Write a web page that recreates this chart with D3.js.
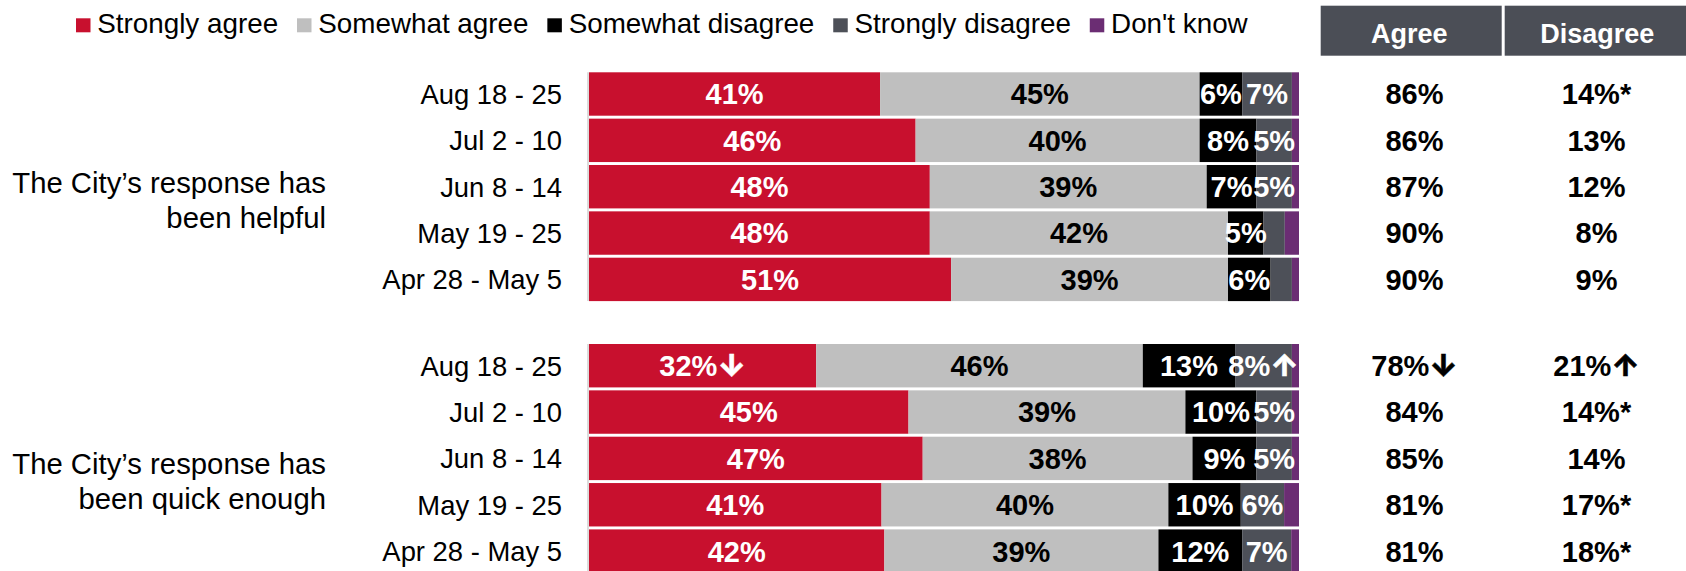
<!DOCTYPE html>
<html>
<head>
<meta charset="utf-8">
<script src="https://cdn.jsdelivr.net/npm/d3@7/dist/d3.min.js"></script>
<style>
  html, body { margin: 0; padding: 0; background: #fff; }
  svg { display: block; font-family: "Liberation Sans", Arial, Helvetica, sans-serif; }
</style>
</head>
<body>
<svg id="chart" width="1686" height="571"></svg>
<script>
// ---------------- data ----------------
const categories = ["Aug 18 - 25", "Jul 2 - 10", "Jun 8 - 14", "May 19 - 25", "Apr 28 - May 5"];
const questionLines = [
  ["The City\u2019s response has", "been helpful"],
  ["The City\u2019s response has", "been quick enough"]
];
const seriesNames = ["Strongly agree", "Somewhat agree", "Somewhat disagree", "Strongly disagree", "Don't know"];

// 10 rows: question 1 (5 waves) then question 2 (5 waves)
const stronglyAgree    = [41, 46, 48, 48, 51,   32, 45, 47, 41.2, 41.6];
const somewhatAgree    = [45, 40, 39, 42, 39,   46, 39, 38, 40.4, 38.6];
const somewhatDisagree = [6,  8,  7,  5,  6,    13, 10, 9,  10.2, 11.8];
const stronglyDisagree = [7,  5,  5,  3,  3,    8,  5,  5,  6.1,  6.9];
const dontKnow         = [1,  1,  1,  2,  1,    1,  1,  1,  2.1,  1.1];

const stronglyAgreeMarks    = ["", "", "", "", "", "\u2193", "", "", "", ""];
const stronglyDisagreeMarks = ["", "", "", "", "", "\u2191", "", "", "", ""];

const agreeTotals    = [86, 86, 87, 90, 90,  78, 84, 85, 81, 81];
const agreeMarks     = ["", "", "", "", "",  "\u2193", "", "", "", ""];
const disagreeTotals = [14, 13, 12, 8, 9,    21, 14, 14, 17, 18];
const disagreeMarks  = ["*", "", "", "", "", "\u2191", "*", "", "*", "*"];

const columnHeaders = ["Agree", "Disagree"];

// ---------------- styles ----------------
const colors = ["#c8102e", "#bfbfbf", "#000000", "#4d5058", "#6b2d73"];
const labelColors = ["#ffffff", "#000000", "#ffffff", "#ffffff", "#ffffff"];
const seriesData = [stronglyAgree, somewhatAgree, somewhatDisagree, stronglyDisagree, dontKnow];
const seriesMarks = [stronglyAgreeMarks, null, null, stronglyDisagreeMarks, null];

const svg = d3.select("#chart");

// x scale
const x = d3.scaleLinear().domain([0, 100]).range([589, 1299]);

// y scales, one band per question group
const pitch = 46.35, barH = 43.4;
const groupTops = [72.3, 344];
const yScales = groupTops.map(t =>
  d3.scaleBand().domain(categories)
    .range([t, t + 4 * pitch + barH])
    .paddingInner((pitch - barH) / pitch)
    .paddingOuter(0)
);

// rows
const rows = [];
for (let g = 0; g < 2; g++) {
  categories.forEach((c, i) => rows.push({ g, cat: c, idx: g * 5 + i }));
}

// helper: centred value text (one text element); arrows in a font with chevron heads
function valueText(parent, cx, cy, main, mark, fill, size) {
  const t = parent.append("text").attr("x", cx).attr("y", cy).attr("dy", "0.36em")
    .attr("text-anchor", "middle").attr("font-weight", "bold").attr("font-size", size)
    .attr("fill", fill);
  t.append("tspan").text(main);
  if (mark) {
    const isArrow = mark === "\u2191" || mark === "\u2193";
    const ts = t.append("tspan").text(mark);
    if (isArrow) {
      ts.attr("font-family", "Inter, 'DejaVu Sans', sans-serif").attr("font-weight", 800)
        .attr("font-size", size * 1.05).attr("stroke", fill).attr("stroke-width", 0.6);
    }
  }
}

// ---------------- legend ----------------
const legend = svg.append("g");
let lx = 76;
seriesNames.forEach((name, i) => {
  legend.append("rect").attr("x", lx).attr("y", 18.3).attr("width", 14.5).attr("height", 14)
    .attr("fill", colors[i]);
  const t = legend.append("text").attr("x", lx + 21.3).attr("y", 33.3)
    .attr("font-size", 27.8).attr("fill", "#000").text(name);
  lx += 21.3 + t.node().getComputedTextLength() + 18.9;
});

// ---------------- header boxes ----------------
const headerBoxes = [[1320.7, 1501.7], [1504.7, 1690]];
const colCenters = [1414.5, 1596.5];
columnHeaders.forEach((h, i) => {
  const [a, b] = headerBoxes[i];
  svg.append("rect").attr("x", a).attr("y", 5.7).attr("width", b - a).attr("height", 50)
    .attr("fill", "#4b4e56");
  svg.append("text").attr("x", (a + b) / 2 - (i === 0 ? 2 : 0)).attr("y", 43.3)
    .attr("text-anchor", "middle").attr("font-weight", "bold").attr("font-size", 27)
    .attr("fill", "#fff").text(h);
});

// ---------------- bars ----------------
const barsG = svg.append("g");
rows.forEach(r => {
  const y = yScales[r.g];
  const yy = y(r.cat), bw = y.bandwidth();
  let cum = 0;
  seriesData.forEach((arr, s) => {
    const v = arr[r.idx];
    const x0 = x(cum), x1 = x(cum + v);
    barsG.append("rect").attr("x", x0).attr("y", yy).attr("width", x1 - x0).attr("height", bw)
      .attr("fill", colors[s]);
    cum += v;
  });
});

// axis line per group
yScales.forEach(y => {
  const r = y.range();
  svg.append("line").attr("x1", 588).attr("x2", 588).attr("y1", r[0]).attr("y2", r[1])
    .attr("stroke", "#d0d0d0").attr("stroke-width", 1.5);
});

// segment labels
const labelsG = svg.append("g");
rows.forEach(r => {
  const y = yScales[r.g];
  const cy = y(r.cat) + y.bandwidth() / 2;
  let cum = 0;
  seriesData.forEach((arr, s) => {
    const v = arr[r.idx];
    if (s < 4 && Math.round(v) >= 5) {
      const mark = seriesMarks[s] ? seriesMarks[s][r.idx] : "";
      valueText(labelsG, x(cum + v / 2), cy, Math.round(v) + "%", mark, labelColors[s], 29);
    }
    cum += v;
  });
});

// row (wave) labels
rows.forEach(r => {
  const y = yScales[r.g];
  const cy = y(r.cat) + y.bandwidth() / 2;
  svg.append("text").attr("x", 562).attr("y", cy).attr("dy", "0.36em")
    .attr("text-anchor", "end").attr("font-size", 27.4).attr("fill", "#000").text(r.cat);
});

// question labels
const qOffsets = [5.8, 15.5];
questionLines.forEach((lines, g) => {
  const y = yScales[g];
  const cy = y(categories[2]) + y.bandwidth() / 2;
  lines.forEach((ln, k) => {
    svg.append("text").attr("x", 326).attr("y", cy + qOffsets[g] + k * 35)
      .attr("text-anchor", "end").attr("font-size", 29.3).attr("fill", "#000").text(ln);
  });
});

// totals columns
const totalsG = svg.append("g");
rows.forEach(r => {
  const y = yScales[r.g];
  const cy = y(r.cat) + y.bandwidth() / 2;
  valueText(totalsG, colCenters[0], cy, agreeTotals[r.idx] + "%", agreeMarks[r.idx], "#000", 29);
  valueText(totalsG, colCenters[1], cy, disagreeTotals[r.idx] + "%", disagreeMarks[r.idx], "#000", 29);
});
</script>
</body>
</html>
